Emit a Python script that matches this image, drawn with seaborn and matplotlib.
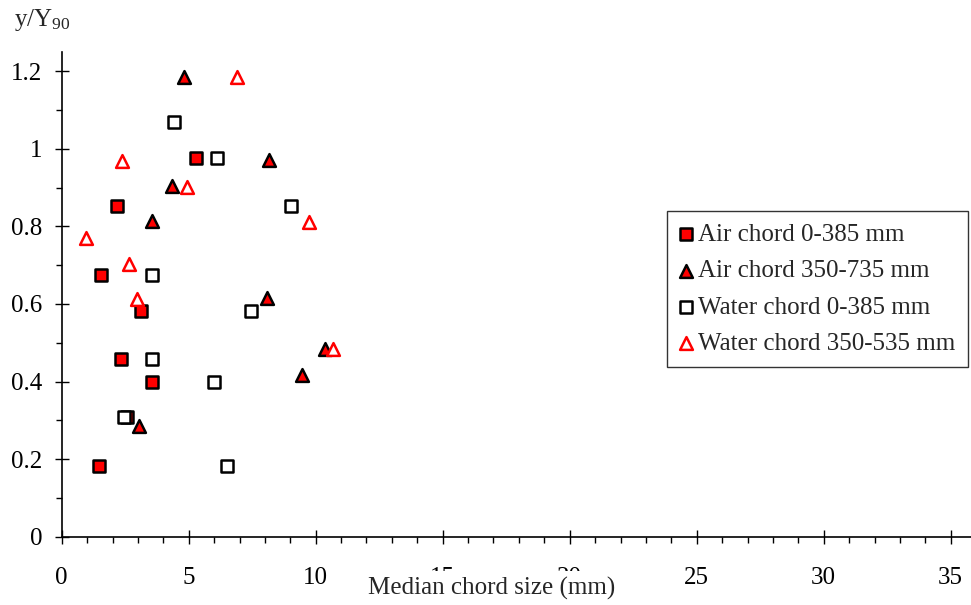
import pandas as pd
import seaborn as sns
import matplotlib.pyplot as plt
from matplotlib.ticker import MultipleLocator, FuncFormatter

# Values
air_a_x = [5.30, 2.17, 1.56, 3.12, 2.33, 3.54, 2.56, 1.47]
air_a_y = [0.975, 0.853, 0.674, 0.582, 0.459, 0.399, 0.308, 0.182]

air_b_x = [4.81, 8.16, 4.33, 3.54, 8.07, 10.37, 9.46, 3.03]
air_b_y = [1.184, 0.971, 0.904, 0.813, 0.614, 0.485, 0.418, 0.286]

wat_a_x = [4.42, 6.10, 9.04, 3.54, 7.46, 3.54, 6.01, 2.44, 6.50]
wat_a_y = [1.069, 0.977, 0.853, 0.674, 0.582, 0.459, 0.399, 0.308, 0.182]

wat_b_x = [6.89, 2.36, 4.92, 9.75, 0.97, 2.65, 2.95, 10.69]
wat_b_y = [1.184, 0.969, 0.902, 0.812, 0.770, 0.704, 0.612, 0.485]

labels = ['Air chord 0-385 mm', 'Air chord 350-735 mm',
          'Water chord 0-385 mm', 'Water chord 350-535 mm']

sns.set_style('white')
plt.rcParams['font.family'] = ['Liberation Serif', 'DejaVu Serif']
plt.rcParams['mathtext.fontset'] = 'custom'
plt.rcParams['mathtext.rm'] = 'Liberation Serif'
plt.rcParams['mathtext.it'] = 'Liberation Serif:italic'

FS = 18

fig = plt.figure(figsize=(9.71, 6.05), dpi=100)
ax = fig.add_axes([61.7 / 971, (605 - 536.7) / 605, (971 - 61.7) / 971, 485 / 605])

# series: (x, y, marker, face, edge)
series = [
    (air_a_x, air_a_y, 's', 'red', 'black'),
    (air_b_x, air_b_y, '^', 'red', 'black'),
    (wat_a_x, wat_a_y, 's', 'white', 'black'),
    (wat_b_x, wat_b_y, '^', 'white', 'red'),
]
for (xs, ys, m, fc, ec), lab in zip(series, labels):
    df = pd.DataFrame({'x': xs, 'y': ys})
    sns.scatterplot(data=df, x='x', y='y', marker=m, s=85, color=fc,
                    edgecolor=ec, linewidth=1.8, label=lab, ax=ax,
                    zorder=3, clip_on=False)

ax.set_xlim(0, (971 - 61.7) / 25.4)
ax.set_ylim(0, 1.25)

for side in ['top', 'right']:
    ax.spines[side].set_visible(False)
for side in ['left', 'bottom']:
    ax.spines[side].set_color('black')
    ax.spines[side].set_linewidth(1.2)

ax.xaxis.set_major_locator(MultipleLocator(5))
ax.xaxis.set_minor_locator(MultipleLocator(1))
ax.yaxis.set_major_locator(MultipleLocator(0.2))
ax.yaxis.set_minor_locator(MultipleLocator(0.1))
ax.yaxis.set_major_formatter(FuncFormatter(lambda v, p: f'{v:g}'))

ax.tick_params(which='major', direction='inout', length=10, width=1,
               color='black', labelsize=FS, labelcolor='black')
ax.tick_params(which='minor', direction='out', length=4, width=1, color='black')
ax.tick_params(axis='x', which='major', pad=16.5, bottom=True)
ax.tick_params(axis='y', which='major', pad=9, left=True)
ax.tick_params(axis='x', which='minor', bottom=True)
ax.tick_params(axis='y', which='minor', left=True)

# x label sits over the 15 / 20 tick labels with a white box, as in the original
ax.set_xlabel('Median chord size (mm)', fontsize=FS,
              bbox=dict(facecolor='white', edgecolor='none', pad=4.5))
ax.xaxis.set_label_coords((492 - 61.7) / 909.3, -0.083)
ax.xaxis.label.set_va('top')
ax.set_ylabel('')

fig.text(14 / 971, 1 - 26 / 605, r'y/Y$_{\mathrm{90}}$', fontsize=FS,
         ha='left', va='baseline')

leg = ax.legend(loc='upper left', bbox_to_anchor=(667 / 971, 1 - 211 / 605),
                bbox_transform=fig.transFigure, fontsize=FS, frameon=True,
                fancybox=False, borderaxespad=0, scatterpoints=1,
                handlelength=0.55, handletextpad=0.2, labelspacing=0.55,
                borderpad=0.5)
leg.get_frame().set_edgecolor('black')
leg.get_frame().set_linewidth(1)

fig.savefig('out.png', dpi=100)
